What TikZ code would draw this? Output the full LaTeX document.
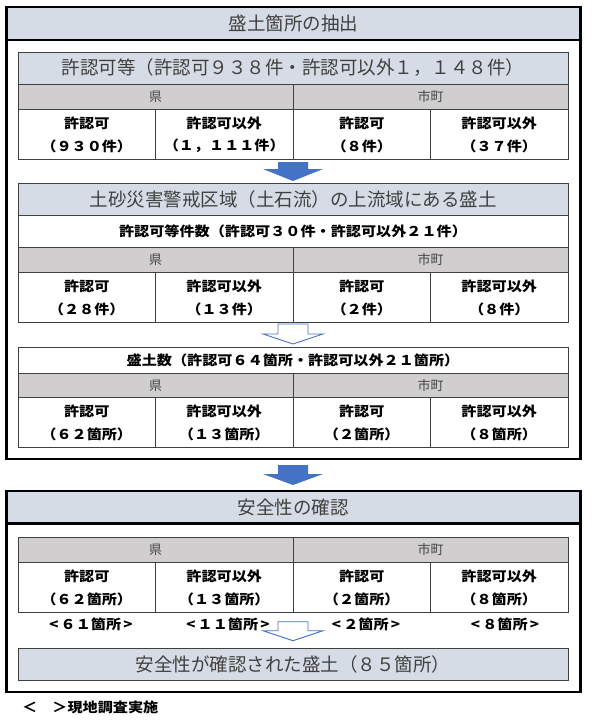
\documentclass[tikz,border=0pt]{standalone}
\usepackage{fontspec}
\newfontfamily\jp{Noto Sans CJK JP}
\newfontfamily\jpw[FakeStretch=1.12]{Noto Sans CJK JP}
\definecolor{hdr}{RGB}{214,220,229}
\definecolor{grayrow}{RGB}{208,206,206}
\definecolor{arrowblue}{RGB}{68,114,196}
\definecolor{tline}{RGB}{64,64,64}
\definecolor{ttext}{RGB}{64,64,64}
\definecolor{gtext}{RGB}{70,70,70}
\tikzset{
  outerline/.style={draw=black, line width=2.4pt},
  tbl/.style={draw=tline, line width=1pt},
  ttl/.style={font=\jp\fontsize{18.5}{20}\selectfont, text=ttext, inner sep=0pt},
  bt/.style={font=\jpw\bfseries\fontsize{13.5}{15}\selectfont, text=black, inner sep=0pt},
  gt/.style={font=\jp\fontsize{13}{15}\selectfont, text=gtext, inner sep=0pt},
  solidarrow/.style={fill=arrowblue, draw=none},
  hollowarrow/.style={fill=white, draw=arrowblue, line width=0.9pt},
}
% gray row: #1 prefix, #2 top
\newcommand\mygrayrow[2]{%
  \draw[tbl, fill=grayrow] (18,#2) rectangle (568,#2+25);
  \draw[tbl] (293,#2) -- (293,#2+25);
  \node[gt] (#1ken) at (155.5,#2+12.5) {県};
  \node[gt] (#1shi) at (430.5,#2+12.5) {市町};
}
% data row: #1 prefix, #2 top, #3-#6 counts
\newcommand\mydatarow[6]{%
  \draw[tbl, fill=white] (18,#2) rectangle (568,#2+50);
  \draw[tbl] (155.5,#2) -- (155.5,#2+50);
  \draw[tbl] (293,#2) -- (293,#2+50);
  \draw[tbl] (430.5,#2) -- (430.5,#2+50);
  \node[bt] (#1a) at (86.75,#2+14) {許認可};
  \node[bt] (#1b) at (224.25,#2+14) {許認可以外};
  \node[bt] (#1c) at (361.75,#2+14) {許認可};
  \node[bt] (#1d) at (499.25,#2+14) {許認可以外};
  \node[bt] (#1an) at (86.75,#2+37) {#3};
  \node[bt] (#1bn) at (224.25,#2+37) {#4};
  \node[bt] (#1cn) at (361.75,#2+37) {#5};
  \node[bt] (#1dn) at (499.25,#2+37) {#6};
}
% block arrow: #1 style, #2 top, #3 head base, #4 tip
\newcommand\myblockarrow[4]{%
  \path[#1] (278,#2) -- (308,#2) -- (308,#3) -- (323,#3) -- (293,#4)
    -- (263,#3) -- (278,#3) -- cycle;
}
\begin{document}
\begin{tikzpicture}[x=1pt, y=-1pt]
\useasboundingbox (0,0) rectangle (600,720);
\fill[white] (0,0) rectangle (600,720);

% ===== outer box 1 =====
\fill[hdr] (6.3,7) rectangle (580.5,40);
\draw[outerline] (6.3,40) -- (580.5,40);
\draw[outerline] (6.3,7) rectangle (580.5,458.7);
\node[ttl] (box1title) at (293.4,23.5) {盛土箇所の抽出};

% table 1
\draw[tbl, fill=hdr] (18,52) rectangle (568,84);
\node[ttl] (t1title) at (293,68) {許認可等（許認可９３８件・許認可以外１，１４８件）};
\mygrayrow{ta}{84}
\mydatarow{tad}{109}{（９３０件）}{（１，１１１件）}{（８件）}{（３７件）}

\myblockarrow{solidarrow}{162}{169}{181}

% table 2
\draw[tbl, fill=hdr] (18,183) rectangle (568,215);
\node[ttl] (t2title) at (293,199) {土砂災害警戒区域（土石流）の上流域にある盛土};
\draw[tbl, fill=white] (18,215) rectangle (568,247);
\node[bt] (t2sub) at (293,231) {許認可等件数（許認可３０件・許認可以外２１件）};
\mygrayrow{tb}{247}
\mydatarow{tbd}{272}{（２８件）}{（１３件）}{（２件）}{（８件）}

\myblockarrow{hollowarrow}{324}{334}{344}

% table 3
\draw[tbl, fill=white] (18,347) rectangle (568,373);
\node[bt] (t3sub) at (293,360) {盛土数（許認可６４箇所・許認可以外２１箇所）};
\mygrayrow{tc}{373}
\mydatarow{tcd}{397}{（６２箇所）}{（１３箇所）}{（２箇所）}{（８箇所）}

% arrow between boxes
\myblockarrow{solidarrow}{465}{474}{485}

% ===== outer box 2 =====
\fill[hdr] (6.3,491) rectangle (580.5,523.3);
\draw[outerline] (6.3,523.3) -- (580.5,523.3);
\draw[outerline] (6.3,491) rectangle (580.5,692);
\node[ttl] (box2title) at (293.4,507) {安全性の確認};

\mygrayrow{td}{537}
\mydatarow{tdd}{562}{（６２箇所）}{（１３箇所）}{（２箇所）}{（８箇所）}

\node[bt] (s1) at (91,624) {<\,６１箇所\,>};
\node[bt] (s2) at (228,624) {<\,１１箇所\,>};
\node[bt] (s3) at (366,624) {<\,２箇所\,>};
\node[bt] (s4) at (505,624) {<\,８箇所\,>};

\myblockarrow{hollowarrow}{621.7}{630.7}{640.7}

\draw[tbl, fill=hdr] (18,648) rectangle (568,680);
\node[ttl] (final) at (293,664) {安全性が確認された盛土（８５箇所）};

% footnote
\node[bt, anchor=west] (note) at (22,707) {＜　＞現地調査実施};
\end{tikzpicture}
\end{document}
